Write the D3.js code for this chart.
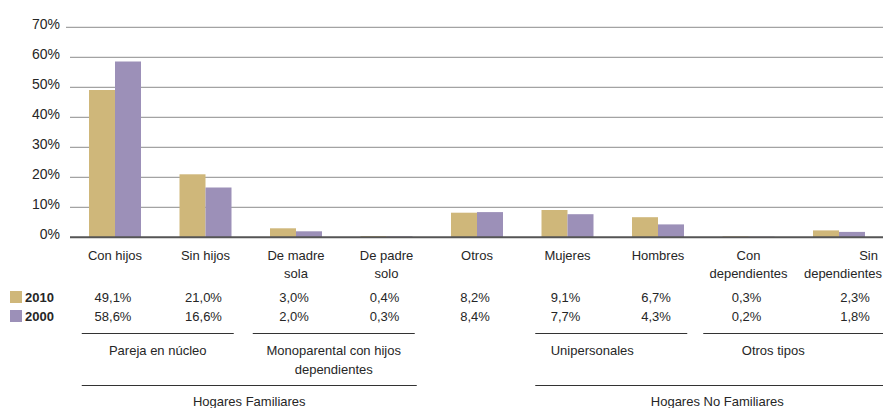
<!DOCTYPE html>
<html><head><meta charset="utf-8">
<script src="https://cdn.jsdelivr.net/npm/d3@7/dist/d3.min.js"></script>
<style>body{margin:0;background:#fff}svg{display:block}text{font-family:"Liberation Sans",Arial,sans-serif;fill:#262626}</style>
</head><body><svg id="c" width="883" height="408"></svg>
<script>
const categories = ["Con hijos","Sin hijos","De madre\nsola","De padre\nsolo","Otros","Mujeres","Hombres","Con\ndependientes","Sin\ndependientes"];
const series = ["2010","2000"];
const values2010 = [49.1,21.0,3.0,0.4,8.2,9.1,6.7,0.3,2.3];
const values2000 = [58.6,16.6,2.0,0.3,8.4,7.7,4.3,0.2,1.8];
const yTicks = [0,10,20,30,40,50,60,70];
const subGroups = [
  {label:"Pareja en núcleo", from:0, to:1},
  {label:"Monoparental con hijos\ndependientes", from:2, to:3},
  {label:"Unipersonales", from:5, to:6},
  {label:"Otros tipos", from:7, to:8}
];
const topGroups = [
  {label:"Hogares Familiares", from:0, to:3},
  {label:"Hogares No Familiares", from:5, to:8}
];
const colors = {"2010":"#CFB77A","2000":"#9C90B8"};
const seriesValues = {"2010":values2010,"2000":values2000};
const fmt = v => d3.format(".1f")(v).replace(".", ",") + "%";

const svg = d3.select("#c");
const x = d3.scaleBand().domain(categories).range([69.75, 884.25]);
const xs = d3.scaleBand().domain(series).range([-26, 26]);
const y = d3.scaleLinear().domain([0,70]).range([237.3, 27.3]);
const cx = c => x(c) + x.bandwidth()/2;

// gridlines
svg.append("g").selectAll("line").data(yTicks.filter(t=>t>0)).join("line")
  .attr("x1", t => t===70 ? 66 : 70).attr("x2", 883)
  .attr("y1", t => y(t)).attr("y2", t => y(t))
  .attr("stroke", "#a3a3a3").attr("stroke-width", 1.3);

// y labels
svg.append("g").selectAll("text").data(yTicks).join("text")
  .attr("x", 60).attr("y", t => y(t) - 3.5).attr("dy", "0.35em")
  .attr("text-anchor", "end").attr("font-size", 14).text(t => t + "%");

// bars
series.forEach(s => {
  svg.append("g").selectAll("rect").data(categories).join("rect")
    .attr("x", (c) => cx(c) + xs(s)).attr("width", xs.bandwidth())
    .attr("y", (c,i) => y(seriesValues[s][i]))
    .attr("height", (c,i) => y(0) - y(seriesValues[s][i]))
    .attr("fill", colors[s]);
});

// baseline
svg.append("line").attr("x1",70).attr("x2",883).attr("y1",y(0)).attr("y2",y(0))
  .attr("stroke","#555").attr("stroke-width",2);

// category labels
categories.forEach((c,i) => {
  const last = i === categories.length-1;
  const t = svg.append("text").attr("text-anchor", last ? "end" : "middle").attr("font-size",13)
    .attr("y", 260);
  c.split("\n").forEach((ln,j) => {
    t.append("tspan").attr("x", last ? 882 - (j===0?4:0) : cx(c)).attr("dy", j===0?0:17.5).text(ln);
  });
});

// legend + value rows
series.forEach((s,k) => {
  const yy = 302 + k*19;
  svg.append("rect").attr("x",10).attr("y",yy-11).attr("width",12).attr("height",12).attr("fill",colors[s]);
  svg.append("text").attr("x",25).attr("y",yy).attr("font-size",13).attr("font-weight","bold").text(s);
  svg.append("g").selectAll("text").data(categories).join("text")
    .attr("x",(c,i) => cx(c) - 2 + (i===categories.length-1 ? 18 : 0))
    .attr("y",yy).attr("text-anchor","middle").attr("font-size",13)
    .text((c,i) => fmt(seriesValues[s][i]));
});

// group lines & labels
const insets = {
  "Pareja en núcleo":[12,-17,0],
  "Monoparental con hijos\ndependientes":[2,-17,0],
  "Unipersonales":[13,-16,-19],
  "Otros tipos":[0,-1,-20],
  "Hogares Familiares":[12,-15,0],
  "Hogares No Familiares":[13,-1,8]
};
function drawGroups(groups, lineY, textY) {
  groups.forEach(g => {
    const ins = insets[g.label];
    const x1 = x(categories[g.from]) + ins[0];
    const x2 = x(categories[g.to]) + x.bandwidth() + ins[1];
    svg.append("line").attr("x1",x1).attr("x2",x2).attr("y1",lineY).attr("y2",lineY)
      .attr("stroke","#333").attr("stroke-width",1);
    const t = svg.append("text").attr("text-anchor","middle").attr("font-size",13).attr("y",textY);
    g.label.split("\n").forEach((ln,j) => {
      t.append("tspan").attr("x",(x1+x2)/2 + ins[2]).attr("dy", j===0?0:19).text(ln);
    });
  });
}
drawGroups(subGroups, 333.5, 355);
drawGroups(topGroups, 385.5, 406);
</script></body></html>
